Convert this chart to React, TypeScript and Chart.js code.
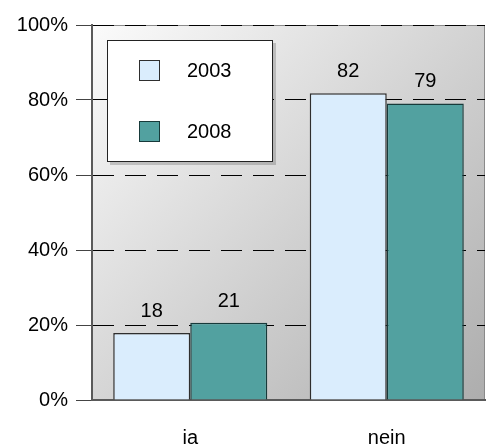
import React, { useEffect, useRef } from "react";
import { Chart, registerables } from "chart.js";

Chart.register(...registerables);

// ---- data ----
const categories = ["ja", "nein"];
const seriesNames = ["2003", "2008"];
const values2003 = [17.9, 81.8];
const values2008 = [20.6, 79.1];
const yTickValues = [0, 20, 40, 60, 80, 100];

const FONT = "'Liberation Sans', Arial, sans-serif";
const COLOR_2003 = "#daedfd";
const BORDER_2003 = "#2e2e2e";
const COLOR_2008 = "#52a1a0";
const BORDER_2008 = "#173a3a";

const backgroundPlugin = {
  id: "bgPlot",
  beforeDraw(chart: any) {
    const { ctx, chartArea: a } = chart;
    ctx.save();
    const g = ctx.createLinearGradient(a.left, a.top, a.right, a.bottom);
    g.addColorStop(0, "#fbfbfb");
    g.addColorStop(1, "#adadad");
    ctx.fillStyle = g;
    ctx.fillRect(a.left, a.top, a.right - a.left, a.bottom - a.top);
    ctx.strokeStyle = "#8a8a8a";
    ctx.lineWidth = 1;
    ctx.beginPath();
    ctx.moveTo(a.left, a.top + 0.5);
    ctx.lineTo(a.right - 0.5, a.top + 0.5);
    ctx.lineTo(a.right - 0.5, a.bottom);
    ctx.stroke();
    ctx.restore();
  },
};

const valueLabelPlugin = {
  id: "valueLabels",
  afterDatasetsDraw(chart: any) {
    const { ctx } = chart;
    ctx.save();
    ctx.font = `20px ${FONT}`;
    ctx.fillStyle = "#000";
    ctx.textAlign = "center";
    ctx.textBaseline = "alphabetic";
    chart.data.datasets.forEach((ds: any, i: number) => {
      const meta = chart.getDatasetMeta(i);
      meta.data.forEach((el: any, j: number) => {
        ctx.fillText(String(Math.round(ds.data[j])), el.x, el.y - 16);
      });
    });
    ctx.restore();
  },
};

const boxLegendPlugin = {
  id: "boxLegend",
  afterDraw(chart: any) {
    const { ctx, chartArea: a } = chart;
    const x = a.left + 15;
    const y = a.top + 15;
    const w = 166;
    const h = 122;
    ctx.save();
    ctx.fillStyle = "rgba(0,0,0,0.18)";
    ctx.fillRect(x + 3, y + 3, w, h);
    ctx.fillStyle = "#fff";
    ctx.fillRect(x, y, w, h);
    ctx.strokeStyle = "#222";
    ctx.lineWidth = 1;
    ctx.strokeRect(x + 0.5, y + 0.5, w - 1, h - 1);
    ctx.font = `20px ${FONT}`;
    ctx.textAlign = "left";
    ctx.textBaseline = "alphabetic";
    chart.data.datasets.forEach((ds: any, i: number) => {
      const my = y + 20 + i * 61;
      const mx = x + 32;
      ctx.fillStyle = ds.backgroundColor;
      ctx.fillRect(mx, my, 21, 21);
      ctx.strokeStyle = ds.borderColor;
      ctx.lineWidth = 1;
      ctx.strokeRect(mx + 0.5, my + 0.5, 20, 20);
      ctx.fillStyle = "#000";
      ctx.fillText(ds.label, x + 80, my + 17);
    });
    ctx.restore();
  },
};

export default function App() {
  const canvasRef = useRef<HTMLCanvasElement | null>(null);

  useEffect(() => {
    if (!canvasRef.current) return;
    const chart = new Chart(canvasRef.current, {
      type: "bar",
      data: {
        labels: categories,
        datasets: [
          {
            label: seriesNames[0],
            data: values2003,
            backgroundColor: COLOR_2003,
            borderColor: BORDER_2003,
            borderWidth: 1.5,
            categoryPercentage: 0.784,
            barPercentage: 1,
          },
          {
            label: seriesNames[1],
            data: values2008,
            backgroundColor: COLOR_2008,
            borderColor: BORDER_2008,
            borderWidth: 1.5,
            categoryPercentage: 0.784,
            barPercentage: 1,
          },
        ],
      },
      options: {
        responsive: false,
        animation: false,
        devicePixelRatio: 1,
        layout: { padding: { top: 25, right: 5, left: 0, bottom: 0 } },
        plugins: {
          legend: { display: false },
          tooltip: { enabled: false },
        },
        scales: {
          x: {
            grid: { display: false, drawTicks: false },
            border: { display: true, color: "#5a5a5a", width: 2 },
            ticks: {
              color: "#000",
              font: { family: FONT, size: 20 },
              padding: 26,
            },
            afterFit(scale: any) {
              scale.height = 44;
            },
          },
          y: {
            min: 0,
            max: 100,
            afterBuildTicks(scale: any) {
              scale.ticks = yTickValues.map((v) => ({ value: v }));
            },
            grid: {
              color: (c: any) => (c.tick && c.tick.value === 0 ? "rgba(0,0,0,0)" : "#000"),
              lineWidth: 1,
              tickColor: "#444",
              tickLength: 16,
              tickWidth: 1,
            },
            border: { display: true, color: "#5a5a5a", width: 2, dash: [21, 11] },
            ticks: {
              color: "#000",
              font: { family: FONT, size: 20 },
              padding: 8,
              callback: (v: any) => `${v}%`,
            },
            afterFit(scale: any) {
              scale.width = 92;
            },
          },
        },
      },
      plugins: [backgroundPlugin, valueLabelPlugin, boxLegendPlugin],
    });
    return () => chart.destroy();
  }, []);

  return (
    <div style={{ position: "absolute", left: 0, top: 0, width: 490, height: 444 }}>
      <canvas ref={canvasRef} width={490} height={444} style={{ display: "block" }} />
    </div>
  );
}
